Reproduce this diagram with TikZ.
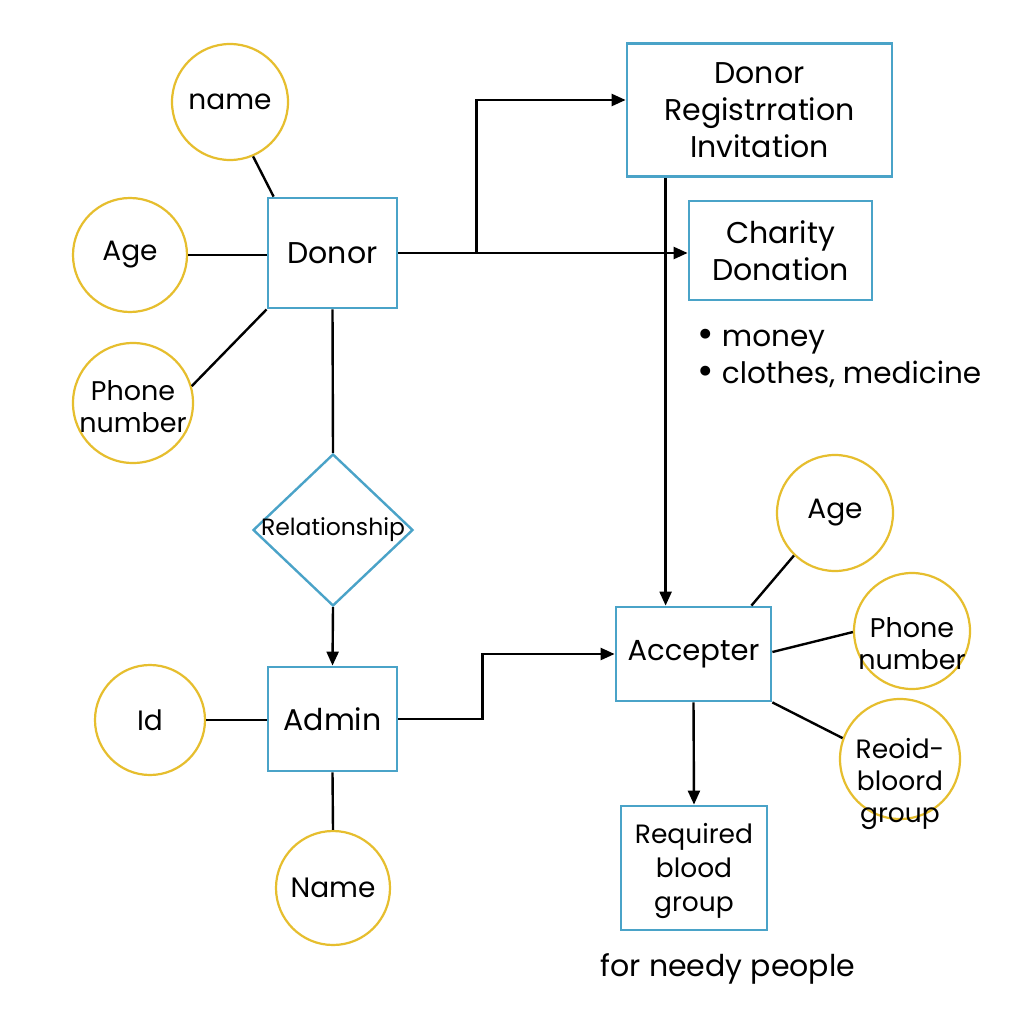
\documentclass[tikz,border=0pt]{standalone}
\usepackage{fontspec}
\setmainfont{Poppins}
\usetikzlibrary{arrows.meta,shapes.geometric,calc}
\definecolor{eblue}{HTML}{4AA3C8}
\definecolor{ayel}{HTML}{E6BE2E}
\tikzset{
  ent/.style={draw=eblue,line width=2.8pt,rectangle,align=center,inner sep=0pt,font=\fontsize{30}{37}\selectfont},
  attr/.style={draw=ayel,line width=2.2pt,circle,inner sep=0pt},
  conn/.style={line width=2.4pt,black},
  arr/.style={conn,-{Triangle[length=14pt,width=12pt]}},
  atxt/.style={font=\fontsize{28}{34}\selectfont,align=center},
  stxt/.style={font=\fontsize{27}{32}\selectfont,align=center}
}
\newcommand{\bigbul}{{\fontsize{40}{20}\selectfont\raisebox{-1pt}{\textbullet}}}
\begin{document}
\begin{tikzpicture}[x=1pt,y=-1pt]
\useasboundingbox[fill=white] (0,0) rectangle (1024,1024);
% entities
\node[ent,minimum width=129,minimum height=110] (donor) at (332.5,253) {Donor};
\node[ent,minimum width=129,minimum height=104] (admin) at (332.5,719) {Admin};
\node[ent,minimum width=265,minimum height=133] (dr) at (759.5,110) {Donor\\Registrration\\Invitation};
\node[ent,minimum width=183,minimum height=99] (cd) at (780.5,250.5) {Charity\\Donation};
\node[ent,minimum width=155,minimum height=94,font=\fontsize{29}{37}\selectfont] (acc) at (693.5,654) {Accepter};
\node[ent,minimum width=146,minimum height=124,font=\fontsize{26.5}{34}\selectfont] (rq) at (694,868) {};
\node[font=\fontsize{26.5}{34}\selectfont,align=center] at (694,871) {Required\\blood\\group};
% relationship
\node[draw=eblue,line width=2.4pt,diamond,minimum width=160,minimum height=152,inner sep=0pt] (rel) at (333,530) {};
\node[font=\fontsize{23.5}{25}\selectfont] at (rel.center) {Relationship};
% attributes
\node[attr,minimum size=116,label={[atxt]center:name}] (nm) at (230,102) {};
\node[attr,minimum size=114,label={[atxt]center:Age}] (age) at (130,255) {};
\node[attr,minimum size=120] (ph) at (133,403) {};
\node[stxt] at (133,407) {Phone\\number};
\node[attr,minimum size=110,label={[atxt]center:Id}] (id) at (150,720) {};
\node[attr,minimum size=114,label={[atxt]center:Name}] (nm2) at (333,888) {};
\node[attr,minimum size=116,label={[atxt]center:Age}] (age2) at (835,513) {};
\node[attr,minimum size=116] (ph2) at (912,631) {};
\node[stxt] at (912,644) {Phone\\number};
\node[attr,minimum size=120] (rb) at (900,759) {};
\node[stxt,font=\fontsize{26.5}{32}\selectfont] at (900,784) {Reoid-\\bloord\\group};
% texts
\node[anchor=west,align=left,font=\fontsize{29.5}{37}\selectfont] (bl) at (694,358) {\bigbul\ money\\\bigbul\ clothes, medicine};
\node[font=\fontsize{30}{34}\selectfont] (nd) at (728,969) {for needy people};
% connectors
\draw[conn] (nm.-67) -- ([xshift=7pt]donor.north west);
\draw[conn] (age.east) -- (age.east -| donor.west);
\draw[conn] (ph.16) -- (donor.south west);
\draw[conn] (donor.south) -- (rel.north);
\draw[arr] (rel.south) -- (admin.north);
\draw[conn] (id.east) -- (id.east -| admin.west);
\draw[conn] (admin.south) -- (nm2.north);
\draw[arr] (donor.east) -- (donor.east -| cd.west);
\coordinate (br) at ($(donor.east)+(78,0)$);
\draw[arr] (br) |- ([yshift=10pt]dr.west);
\draw[arr] ([xshift=40pt]dr.south west) -- ([xshift=51pt]acc.north west);
\draw[arr] (admin.east) -- ++(84,0) |- (acc.west);
\draw[arr] (acc.south) -- (rq.north);
\draw[conn] (age2.226) -- ([xshift=-21pt]acc.north east);
\draw[conn] ([yshift=2pt]acc.east) -- (ph2.181);
\draw[conn] (acc.south east) -- (rb.160);
\end{tikzpicture}
\end{document}
